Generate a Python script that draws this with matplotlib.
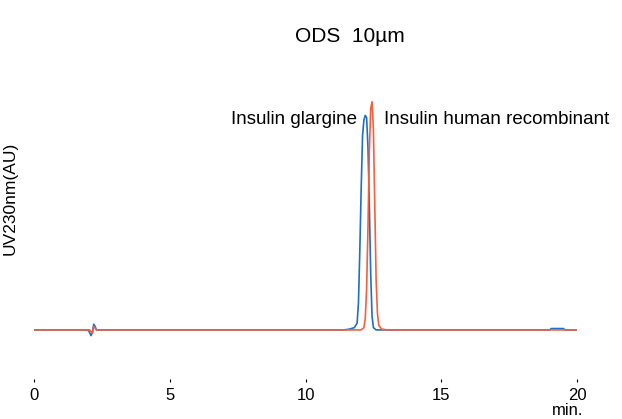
import matplotlib
matplotlib.use("Agg")
import matplotlib.pyplot as plt

plt.rcParams["font.family"] = ["Liberation Sans", "DejaVu Sans"]

# retention time (min) and signal (relative AU)
glargine_t = [0.0, 2.0, 2.1, 2.15, 2.2, 2.25, 2.3, 11.4, 11.6, 11.8, 11.9, 11.95, 12.0, 12.05,
              12.1, 12.15, 12.2, 12.25, 12.3, 12.35, 12.4, 12.45, 12.5, 12.6, 19.0, 19.05,
              19.5, 19.55, 20.0]
glargine_y = [0.0, 0.0, -0.025, -0.01, 0.025, 0.015, 0.0, 0.0, 0.003, 0.01, 0.03, 0.12, 0.35, 0.62,
              0.85, 0.92, 0.94, 0.93, 0.80, 0.55, 0.25, 0.06, 0.01, 0.0, 0.0, 0.006,
              0.006, 0.0, 0.0]

human_t = [0.0, 2.05, 2.15, 2.2, 2.25, 2.3, 12.05, 12.15, 12.2, 12.25, 12.3, 12.35, 12.4,
           12.45, 12.5, 12.55, 12.6, 12.65, 12.7, 12.8, 13.0, 20.0]
human_y = [0.0, 0.0, -0.015, 0.015, 0.008, 0.0, 0.0, 0.01, 0.05, 0.18, 0.45, 0.78, 0.97,
           1.0, 0.88, 0.55, 0.22, 0.07, 0.02, 0.004, 0.0, 0.0]

x_ticks = [0, 5, 10, 15, 20]

fig = plt.figure(figsize=(6.22, 4.19), dpi=100)
ax = fig.add_axes([0.0547, 0.0955, 0.873, 0.714])

ax.plot(glargine_t, glargine_y, color="#1f6fc3", linewidth=1.2)
ax.plot(human_t, human_y, color="#f2603f", linewidth=1.2)

ax.set_xlim(0, 20)
ax.set_ylim(-0.215, 1.096)
for s in ax.spines.values():
    s.set_visible(False)
ax.set_yticks([])
ax.set_xticks(x_ticks)
ax.tick_params(axis="x", length=2.5, width=0.8, pad=4, labelsize=12)

ax.text(11.9, 0.92, "Insulin glargine", ha="right", va="center", fontsize=13.5)
ax.text(12.89, 0.92, "Insulin human recombinant", ha="left", va="center", fontsize=13.5)

fig.text(0.563, 0.912, "ODS  10\u00b5m", ha="center", va="center", fontsize=15)
fig.text(0.016, 0.527, "UV230nm(AU)", rotation=90, ha="center", va="center", fontsize=12.5)
fig.text(0.912, 0.021, "min.", ha="center", va="center", fontsize=12)

fig.savefig("out.png", dpi=100)
